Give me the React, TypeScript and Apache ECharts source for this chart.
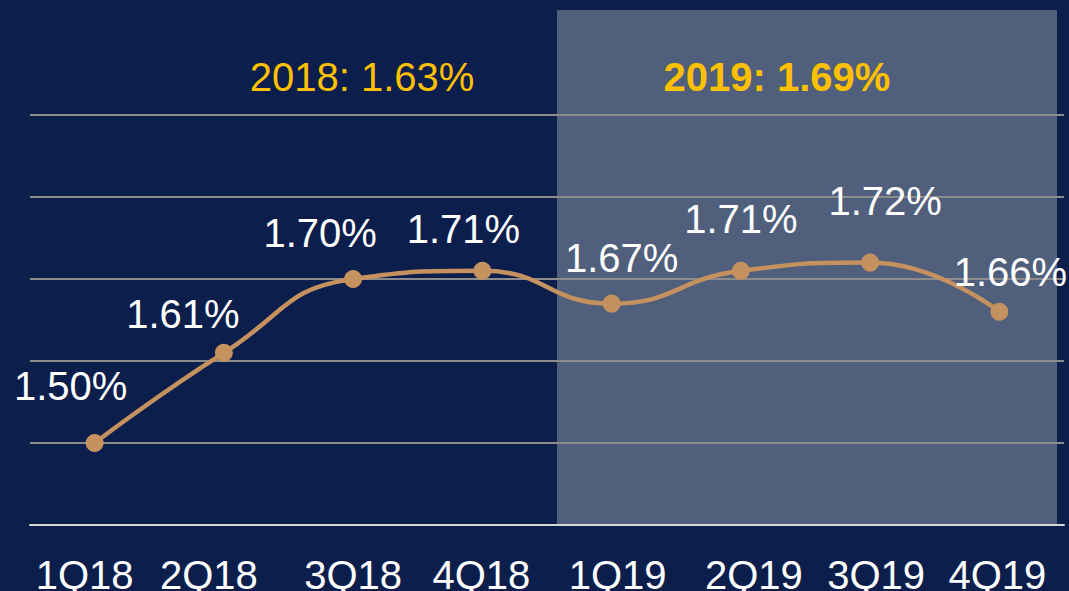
import React, { useEffect, useRef } from "react";
import * as echarts from "echarts";

const categories = ["1Q18", "2Q18", "3Q18", "4Q18", "1Q19", "2Q19", "3Q19", "4Q19"];
const values = [1.5, 1.61, 1.7, 1.71, 1.67, 1.71, 1.72, 1.66];
const labelOffsets: [number, number][] = [
  [-24, -57], [-41, -39], [-33, -46], [-19, -42], [10, -46], [0, -52], [15, -62], [11, -40],
];
const categoryShifts = [-10, -15, 0, -1, 6, 13, 6, -2];
const periodLabels = ["2018: 1.63%", "2019: 1.69%"];
const yTicks = { min: 1.4, max: 1.9, interval: 0.1 };

const FONT = "Liberation Sans, Arial, sans-serif";

export default function App() {
  const ref = useRef<HTMLDivElement>(null);
  useEffect(() => {
    if (!ref.current) return;
    const chart = echarts.init(ref.current, undefined, { renderer: "svg" });
    const rich: Record<string, any> = {};
    categoryShifts.forEach((s, i) => {
      rich["c" + i] = {
        color: "#ffffff",
        fontFamily: FONT,
        fontSize: 40,
        padding: s < 0 ? [0, -2 * s, 0, 0] : [0, 0, 0, 2 * s],
      };
    });
    chart.setOption({
      animation: false,
      backgroundColor: "#0c1e4c",
      grid: { left: 30, right: 5, top: 115, bottom: 66, containLabel: false, outerBoundsMode: "none" },
      graphic: [
        {
          type: "rect",
          z: -10,
          silent: true,
          shape: { x: 557, y: 10, width: 500, height: 515 },
          style: { fill: "#4f5f7c" },
        },
        {
          type: "text",
          x: 362,
          y: 77,
          style: {
            text: periodLabels[0],
            fill: "#ffc000",
            font: `40px ${FONT}`,
            align: "center",
            verticalAlign: "middle",
          },
        },
        {
          type: "text",
          x: 777,
          y: 77,
          style: {
            text: periodLabels[1],
            fill: "#ffc000",
            font: `bold 40px ${FONT}`,
            align: "center",
            verticalAlign: "middle",
          },
        },
      ],
      xAxis: {
        type: "category",
        data: categories,
        boundaryGap: true,
        axisLine: { show: true, lineStyle: { color: "#d9d9d9", width: 2 } },
        axisTick: { show: false },
        axisLabel: {
          color: "#ffffff",
          fontFamily: FONT,
          fontSize: 40,
          margin: 30,
          interval: 0,
          formatter: (v: string, i: number) => `{c${i}|${v}}`,
          rich,
        },
      },
      yAxis: {
        type: "value",
        min: yTicks.min,
        max: yTicks.max,
        interval: yTicks.interval,
        axisLine: { show: false },
        axisTick: { show: false },
        axisLabel: { show: false },
        splitLine: { show: true, lineStyle: { color: "#8c8c8c", width: 2 } },
      },
      series: [
        {
          type: "line",
          smooth: 0.5,
          symbol: "circle",
          symbolSize: 18,
          lineStyle: { color: "#c4915f", width: 4.5 },
          itemStyle: { color: "#c4915f" },
          data: values.map((v, i) => ({
            value: v,
            label: {
              show: true,
              position: "inside",
              offset: labelOffsets[i],
              formatter: (p: any) => p.value.toFixed(2) + "%",
              color: "#ffffff",
              fontFamily: FONT,
              fontSize: 40,
              align: "center",
              verticalAlign: "middle",
            },
          })),
        },
      ],
    });
    return () => chart.dispose();
  }, []);
  return (
    <div
      ref={ref}
      style={{ position: "fixed", left: 0, top: 0, width: 1069, height: 591 }}
    />
  );
}
